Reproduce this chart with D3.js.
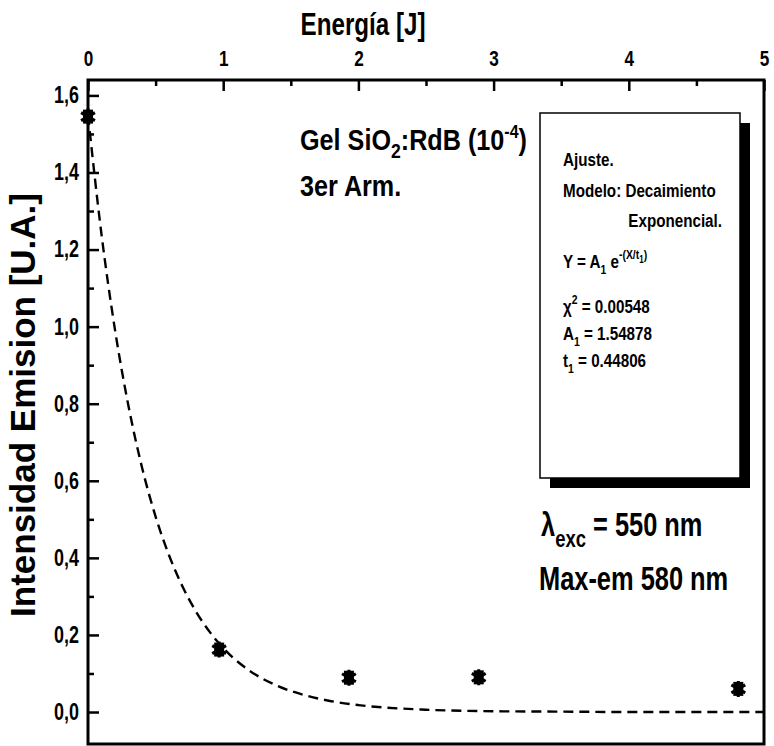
<!DOCTYPE html>
<html><head><meta charset="utf-8">
<script src="https://cdn.jsdelivr.net/npm/d3@7"></script>
<style>
html,body{margin:0;padding:0;background:#fff;}
svg{display:block;}
.nar{font-family:"Liberation Sans",Arial,sans-serif;font-weight:bold;}
</style></head>
<body>
<svg id="c" width="774" height="746"></svg>
<script>
// ---- data ----
const xTickValues = [0, 1, 2, 3, 4, 5];
const xTickLabels = ["0", "1", "2", "3", "4", "5"];
const xMinorTicks = [0.5, 1.5, 2.5, 3.5, 4.5];
const yTickValues = [0, 0.2, 0.4, 0.6, 0.8, 1.0, 1.2, 1.4, 1.6];
const yTickLabels = ["0,0", "0,2", "0,4", "0,6", "0,8", "1,0", "1,2", "1,4", "1,6"];
const yMinorTicks = [0.1, 0.3, 0.5, 0.7, 0.9, 1.1, 1.3, 1.5];
const energy = [0, 0.97, 1.93, 2.89, 4.81];
const intensity = [1.545, 0.162, 0.089, 0.090, 0.060];
const fitEnergy = [0, 0.1, 0.2, 0.3, 0.4, 0.5, 0.6, 0.7, 0.8, 0.9, 1.0, 1.2, 1.4, 1.6, 1.8, 2.0, 2.5, 3.0, 3.5, 4.0, 4.5, 5.0];
const fitIntensity = [1.549, 1.239, 0.991, 0.793, 0.634, 0.507, 0.406, 0.325, 0.260, 0.208, 0.166, 0.106, 0.068, 0.044, 0.028, 0.018, 0.006, 0.002, 0.001, 0.000, 0.000, 0.000];

// ---- layout ----
const svg = d3.select("#c");
const L = 88, R = 764, T = 80, B = 744;
const x = d3.scaleLinear().domain([0, 5]).range([L, R]);
const y = d3.scaleLinear().domain([-0.083, 1.64]).range([B, T]);
const SX = 0.78; // condensed look

function ntext(parent, px, py, size, sx, anchor) {
  return parent.append("text").attr("class", "nar")
    .attr("transform", `translate(${px},${py}) scale(${sx},1)`)
    .attr("font-size", size).attr("text-anchor", anchor || "start");
}

// top axis (major)
const gx = svg.append("g").attr("transform", `translate(0,${T})`)
  .call(d3.axisTop(x).tickValues(xTickValues).tickFormat((d, i) => xTickLabels[i]).tickSizeInner(-11).tickSizeOuter(0).tickPadding(14));
gx.select(".domain").remove();
gx.selectAll(".tick line").attr("stroke", "#000").attr("stroke-width", 2.5);
gx.selectAll(".tick text").attr("class", "nar").attr("font-size", 22).attr("fill", "#000")
  .attr("transform", `scale(${SX},1)`);
const gxm = svg.append("g").attr("transform", `translate(0,${T})`)
  .call(d3.axisTop(x).tickValues(xMinorTicks).tickFormat("").tickSizeInner(-6).tickSizeOuter(0));
gxm.select(".domain").remove();
gxm.selectAll(".tick line").attr("stroke", "#000").attr("stroke-width", 2.5);

// left axis
const gy = svg.append("g").attr("transform", `translate(${L},0)`)
  .call(d3.axisLeft(y).tickValues(yTickValues).tickFormat((d, i) => yTickLabels[i]).tickSizeInner(-11).tickSizeOuter(0).tickPadding(8));
gy.select(".domain").remove();
gy.selectAll(".tick line").attr("stroke", "#000").attr("stroke-width", 2.5);
gy.selectAll(".tick text").attr("class", "nar").attr("font-size", 23).attr("fill", "#000")
  .attr("transform", `scale(${SX},1)`).attr("x", -9 / SX);
const gym = svg.append("g").attr("transform", `translate(${L},0)`)
  .call(d3.axisLeft(y).tickValues(yMinorTicks).tickFormat("").tickSizeInner(-6).tickSizeOuter(0));
gym.select(".domain").remove();
gym.selectAll(".tick line").attr("stroke", "#000").attr("stroke-width", 2.5);

// frame
svg.append("rect").attr("x", L).attr("y", T).attr("width", R - L).attr("height", B - T)
  .attr("fill", "none").attr("stroke", "#000").attr("stroke-width", 3);

// axis titles
ntext(svg, 363, 35, 31, 0.78, "middle").text("Energía [J]");
svg.append("text").attr("transform", `translate(35,${405}) rotate(-90)`)
  .attr("text-anchor", "middle").attr("font-family", "'Liberation Sans',Arial,sans-serif")
  .attr("font-weight", "bold").attr("font-size", 35).text("Intensidad Emision [U.A.]");

// fit curve
const line = d3.line().x((d, i) => x(fitEnergy[i])).y(d => y(d)).curve(d3.curveMonotoneX);
svg.append("path").datum(fitIntensity).attr("d", line)
  .attr("fill", "none").attr("stroke", "#000").attr("stroke-width", 2.4)
  .attr("stroke-dasharray", "10,6");

// points
const sym = d3.symbol().type(d3.symbolAsterisk).size(180);
const pts = svg.append("g");
energy.forEach((e, i) => {
  const g = pts.append("g").attr("transform", `translate(${x(e)},${y(intensity[i])})`);
  g.append("rect").attr("x", -5).attr("y", -7).attr("width", 10).attr("height", 14).attr("fill", "#000");
  g.append("path").attr("d", sym()).attr("fill", "none").attr("stroke", "#000").attr("stroke-width", 3);
});

// annotation texts
const t1 = ntext(svg, 300, 150, 30, 0.84);
t1.append("tspan").text("Gel SiO");
t1.append("tspan").attr("dy", 8).attr("font-size", 21).text("2");
t1.append("tspan").attr("dy", -8).text(":RdB (10");
t1.append("tspan").attr("dy", -12).attr("font-size", 19).text("-4");
t1.append("tspan").attr("dy", 12).text(")");
ntext(svg, 300, 196, 30, 0.84).text("3er Arm.");

// fit box with shadow
svg.append("rect").attr("x", 550).attr("y", 123).attr("width", 200).attr("height", 365).attr("fill", "#000");
svg.append("rect").attr("x", 540).attr("y", 113).attr("width", 200).attr("height", 365)
  .attr("fill", "#fff").attr("stroke", "#000").attr("stroke-width", 1.5);
const bx = 563, fs = 19, bs = 0.8;
ntext(svg, bx, 166, fs, bs).text("Ajuste.");
ntext(svg, bx, 197, fs, bs).text("Modelo: Decaimiento");
ntext(svg, 722, 227, fs, bs, "end").text("Exponencial.");
const ty = ntext(svg, bx, 268, fs, bs);
ty.append("tspan").text("Y = A");
ty.append("tspan").attr("dy", 6).attr("font-size", 13).text("1");
ty.append("tspan").attr("dy", -6).text(" e");
ty.append("tspan").attr("dy", -9).attr("font-size", 13).text("-(X/t");
ty.append("tspan").attr("dy", 4).attr("font-size", 10).text("1");
ty.append("tspan").attr("dy", -4).attr("font-size", 13).text(")");
const tc = ntext(svg, bx, 313, fs, bs);
tc.append("tspan").text("χ");
tc.append("tspan").attr("dy", -9).attr("font-size", 13).text("2");
tc.append("tspan").attr("dy", 9).text(" = 0.00548");
const ta = ntext(svg, bx, 340, fs, bs);
ta.append("tspan").text("A");
ta.append("tspan").attr("dy", 6).attr("font-size", 13).text("1");
ta.append("tspan").attr("dy", -6).text(" = 1.54878");
const tt = ntext(svg, bx, 367, fs, bs);
tt.append("tspan").text("t");
tt.append("tspan").attr("dy", 6).attr("font-size", 13).text("1");
tt.append("tspan").attr("dy", -6).text(" = 0.44806");

const tl = ntext(svg, 541, 536, 33, 0.77);
tl.append("tspan").text("λ");
tl.append("tspan").attr("dy", 11).attr("font-size", 24).text("exc");
tl.append("tspan").attr("dy", -11).text(" = 550 nm");
ntext(svg, 539, 590, 33, 0.77).text("Max-em 580 nm");
</script>
</body></html>
